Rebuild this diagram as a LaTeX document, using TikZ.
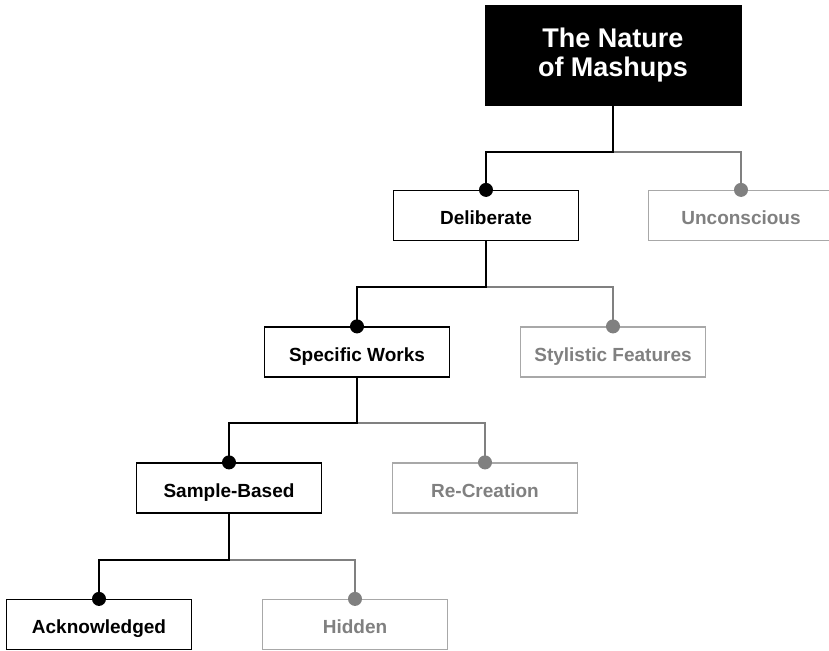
\documentclass[tikz,border=0pt]{standalone}
\usepackage{fontspec}
\setmainfont{Liberation Sans}
\definecolor{dimgray}{HTML}{808080}
\definecolor{framegray}{HTML}{A8A8A8}
\tikzset{
  rootbox/.style={draw, fill=black, text=white, font=\fontsize{27}{29}\selectfont\bfseries,
    align=center, minimum width=256pt, minimum height=100pt, inner sep=0pt},
  keptbox/.style={draw=black, line width=1.2pt, fill=white, font=\fontsize{19}{21}\selectfont\bfseries,
    text height=19pt, text depth=1pt,
    minimum width=185pt, minimum height=50pt, inner sep=0pt},
  dropbox/.style={keptbox, draw=framegray, text=dimgray},
  keptline/.style={draw, line width=1.2pt, black},
  dropline/.style={draw, line width=1.2pt, dimgray},
}
\begin{document}
\begin{tikzpicture}[x=1pt, y=-1pt]
\useasboundingbox (0,0) rectangle (829,650);
\node[rootbox] (root) at (613,55) {The Nature\\of Mashups};
\node[keptbox] (delib) at (486,215.5) {Deliberate};
\node[dropbox] (uncon) at (741,215.5) {Unconscious};
\node[keptbox] (spec) at (357,352) {Specific Works};
\node[dropbox] (styl) at (613,352) {Stylistic Features};
\node[keptbox] (samp) at (229,488) {Sample-Based};
\node[dropbox] (recr) at (485,488) {Re-Creation};
\node[keptbox] (ackn) at (99,624.5) {Acknowledged};
\node[dropbox] (hidd) at (355,624.5) {Hidden};

\coordinate (j1) at (613,152);
\coordinate (j2) at (486,287);
\coordinate (j3) at (357,423);
\coordinate (j4) at (229,560);

\path[dropline] (j1) -| (uncon.north);
\path[keptline] (root.south) -- (j1) -| (delib.north);
\path[dropline] (j2) -| (styl.north);
\path[keptline] (delib.south) -- (j2) -| (spec.north);
\path[dropline] (j3) -| (recr.north);
\path[keptline] (spec.south) -- (j3) -| (samp.north);
\path[dropline] (j4) -| (hidd.north);
\path[keptline] (samp.south) -- (j4) -| (ackn.north);

\fill[black] (delib.north) circle (7pt);
\fill[dimgray] (uncon.north) circle (7pt);
\fill[black] (spec.north) circle (7pt);
\fill[dimgray] (styl.north) circle (7pt);
\fill[black] (samp.north) circle (7pt);
\fill[dimgray] (recr.north) circle (7pt);
\fill[black] (ackn.north) circle (7pt);
\fill[dimgray] (hidd.north) circle (7pt);
\end{tikzpicture}
\end{document}
